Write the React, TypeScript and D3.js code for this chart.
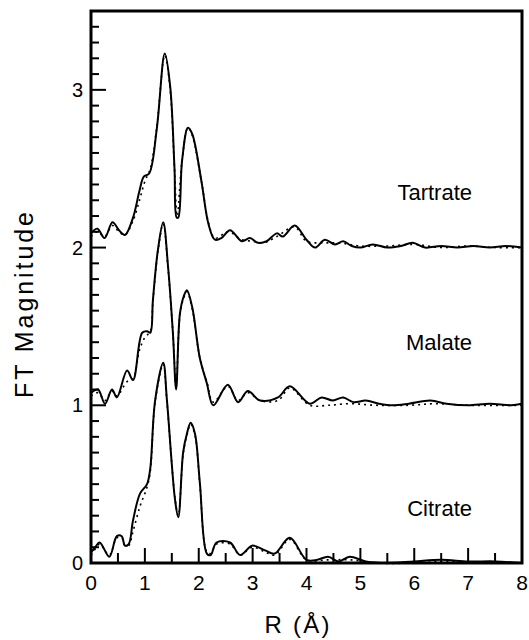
import React from "react";
import * as d3 from "d3";

const WIDTH = 529;
const HEIGHT = 640;
const MARGIN = { top: 11, left: 91, right: 7, bottom: 77 };

// [R (Å), magnitude] pairs, without vertical offset
const tartrateData = [
  [0, 0.09], [0.12, 0.12], [0.25, 0.06], [0.4, 0.16], [0.52, 0.11], [0.63, 0.08],
  [0.78, 0.19], [0.9, 0.36], [0.98, 0.45], [1.08, 0.47], [1.22, 0.75], [1.37, 1.23],
  [1.47, 1.02], [1.55, 0.5], [1.59, 0.19], [1.62, 0.19], [1.69, 0.55], [1.8, 0.76],
  [1.88, 0.72], [2.05, 0.42], [2.18, 0.15], [2.3, 0.05], [2.42, 0.06], [2.58, 0.11], [2.8, 0.04],
  [2.95, 0.06], [3.1, 0.03], [3.26, 0.04], [3.45, 0.09], [3.56, 0.07], [3.78, 0.14],
  [4.0, 0.05], [4.16, 0.0], [4.34, 0.05], [4.53, 0.02], [4.68, 0.04], [4.84, 0.01],
  [5.0, 0.0], [5.23, 0.02], [5.5, 0.0], [5.75, 0.01], [5.97, 0.03], [6.2, 0.0],
  [6.5, 0.01], [6.8, 0.0], [7.1, 0.01], [7.4, 0.0], [7.7, 0.01], [8, 0.0]
];
const tartrateFit = [
  [0, 0.07], [0.12, 0.1], [0.25, 0.07], [0.4, 0.14], [0.52, 0.1], [0.63, 0.08],
  [0.78, 0.17], [0.9, 0.3], [1.0, 0.42], [1.1, 0.5], [1.22, 0.76], [1.37, 1.22],
  [1.47, 1.0], [1.55, 0.5], [1.6, 0.2], [1.69, 0.55], [1.8, 0.76], [1.88, 0.71],
  [2.05, 0.42], [2.18, 0.16], [2.3, 0.06], [2.55, 0.1], [2.8, 0.05], [3.0, 0.04], [3.2, 0.03],
  [3.45, 0.07], [3.78, 0.13], [4.0, 0.04], [4.3, 0.03], [4.6, 0.03], [5.0, 0.01],
  [5.5, 0.01], [6.0, 0.02], [6.5, 0.0], [7, 0.01], [7.5, 0.0], [8, 0.0]
];

const malateData = [
  [0, 0.08], [0.13, 0.1], [0.26, 0.01], [0.39, 0.1], [0.48, 0.05], [0.67, 0.22],
  [0.78, 0.16], [0.95, 0.46], [1.04, 0.47], [1.1, 0.46], [1.15, 0.67], [1.24, 0.98],
  [1.34, 1.16], [1.43, 0.88], [1.52, 0.46], [1.58, 0.1], [1.65, 0.58], [1.72, 0.69],
  [1.78, 0.73], [1.88, 0.62], [2.02, 0.3], [2.15, 0.14], [2.27, 0.0], [2.54, 0.13],
  [2.73, 0.02], [2.91, 0.09], [3.14, 0.03], [3.47, 0.05], [3.69, 0.12], [4.06, 0.01],
  [4.28, 0.05], [4.49, 0.03], [4.68, 0.05], [4.87, 0.02], [5.1, 0.03], [5.35, 0.01],
  [5.6, 0.0], [5.9, 0.01], [6.3, 0.03], [6.6, 0.01], [7.0, 0.0], [7.4, 0.01],
  [7.8, 0.0], [8, 0.01]
];
const malateFit = [
  [0, 0.06], [0.13, 0.08], [0.26, 0.03], [0.39, 0.09], [0.48, 0.06], [0.67, 0.15],
  [0.78, 0.17], [0.9, 0.35], [1.0, 0.43], [1.1, 0.47], [1.15, 0.66], [1.24, 0.97],
  [1.34, 1.15], [1.43, 0.87], [1.52, 0.46], [1.58, 0.12], [1.65, 0.57], [1.72, 0.68],
  [1.78, 0.72], [1.88, 0.61], [2.02, 0.3], [2.15, 0.15], [2.27, 0.02], [2.54, 0.12],
  [2.73, 0.03], [2.91, 0.08], [3.14, 0.03], [3.47, 0.03], [3.69, 0.11], [4.06, 0.0],
  [4.4, 0.0], [4.8, 0.01], [5.3, 0.0], [5.9, 0.0], [6.4, 0.01], [7.0, 0.0], [8, 0.0]
];

const citrateData = [
  [0, 0.07], [0.06, 0.09], [0.16, 0.13], [0.34, 0.04], [0.48, 0.17], [0.57, 0.17],
  [0.63, 0.11], [0.7, 0.12], [0.78, 0.27], [0.91, 0.44], [1.04, 0.5], [1.1, 0.6],
  [1.19, 1.03], [1.34, 1.27], [1.41, 1.03], [1.56, 0.4], [1.62, 0.29], [1.71, 0.7],
  [1.78, 0.82], [1.85, 0.89], [1.93, 0.82], [2.02, 0.51], [2.15, 0.06], [2.22, 0.05],
  [2.33, 0.13], [2.58, 0.13], [2.77, 0.05], [2.99, 0.11], [3.23, 0.08], [3.41, 0.06],
  [3.69, 0.16], [4.0, 0.02], [4.2, 0.02], [4.4, 0.04], [4.6, 0.01], [4.8, 0.04],
  [5.1, 0.01], [5.5, 0.0], [6.0, 0.01], [6.5, 0.02], [7.0, 0.01], [7.5, 0.01], [8, 0.0]
];
const citrateFit = [
  [0, 0.05], [0.06, 0.08], [0.16, 0.12], [0.34, 0.05], [0.48, 0.16], [0.57, 0.16],
  [0.63, 0.11], [0.7, 0.11], [0.78, 0.2], [0.91, 0.36], [1.04, 0.48], [1.1, 0.58],
  [1.19, 1.02], [1.34, 1.26], [1.41, 1.02], [1.56, 0.41], [1.62, 0.3], [1.71, 0.69],
  [1.78, 0.81], [1.85, 0.88], [1.93, 0.81], [2.02, 0.5], [2.15, 0.07], [2.22, 0.06],
  [2.33, 0.12], [2.58, 0.12], [2.77, 0.05], [2.99, 0.1], [3.23, 0.07], [3.41, 0.05],
  [3.69, 0.15], [4.0, 0.02], [4.4, 0.02], [4.8, 0.02], [5.3, 0.0], [6.0, 0.0],
  [6.6, 0.01], [7.2, 0.0], [8, 0.0]
];

const seriesNames = ["Tartrate", "Malate", "Citrate"];
const seriesOffsets = [2, 1, 0];
const seriesData = [tartrateData, malateData, citrateData];
const seriesFits = [tartrateFit, malateFit, citrateFit];
const labelY = [2.3, 1.35, 0.3];

const xTickLabels = [0, 1, 2, 3, 4, 5, 6, 7, 8];
const yTickLabels = [0, 1, 2, 3];

const FONT = "'Liberation Sans', Arial, Helvetica, sans-serif";

export default function App() {
  const x = d3
    .scaleLinear()
    .domain([0, 8])
    .range([MARGIN.left, WIDTH - MARGIN.right]);
  const y = d3
    .scaleLinear()
    .domain([0, 3.5])
    .range([HEIGHT - MARGIN.bottom, MARGIN.top]);

  const makeLine = (offset: number) =>
    d3
      .line<number[]>()
      .x(d => x(d[0]))
      .y(d => y(d[1] + offset))
      .curve(d3.curveCatmullRom.alpha(0.5));

  const yMinor = d3.range(0, 35).map(i => i / 10);
  const xMinor = d3.range(0, 17).map(i => i / 2);
  const x0 = x(0);
  const y0 = y(0);

  return (
    <svg
      width={WIDTH}
      height={HEIGHT}
      style={{ position: "absolute", left: 0, top: 0, background: "#fff" }}
      fontFamily={FONT}
    >
      {/* fits (dotted) */}
      {seriesFits.map((s, i) => (
        <path
          key={"fit" + i}
          d={makeLine(seriesOffsets[i])(s) || ""}
          fill="none"
          stroke="#000"
          strokeWidth={1.6}
          strokeDasharray="2,4"
        />
      ))}
      {/* data (solid) */}
      {seriesData.map((s, i) => (
        <path
          key={"data" + i}
          d={makeLine(seriesOffsets[i])(s) || ""}
          fill="none"
          stroke="#000"
          strokeWidth={2}
          strokeLinejoin="round"
        />
      ))}

      {/* y ticks */}
      {yMinor.map(v => {
        const major = Math.abs(v - Math.round(v)) < 1e-6;
        return (
          <line
            key={"yt" + v}
            x1={x0}
            x2={x0 + (major ? 15 : 8)}
            y1={y(v)}
            y2={y(v)}
            stroke="#000"
            strokeWidth={2}
          />
        );
      })}
      {/* x ticks */}
      {xMinor.map(v => {
        const major = Math.abs(v - Math.round(v)) < 1e-6;
        return (
          <line
            key={"xt" + v}
            x1={x(v)}
            x2={x(v)}
            y1={y0}
            y2={y0 - (major ? 15 : 10)}
            stroke="#000"
            strokeWidth={2}
          />
        );
      })}

      {/* frame */}
      <rect
        x={x0}
        y={y(3.5)}
        width={x(8) - x0}
        height={y0 - y(3.5)}
        fill="none"
        stroke="#000"
        strokeWidth={3}
      />

      {yTickLabels.map(v => (
        <text
          key={"yl" + v}
          x={x0 - 8}
          y={y(v) + 7}
          textAnchor="end"
          fontSize={20}
        >
          {v}
        </text>
      ))}
      {xTickLabels.map(v => (
        <text
          key={"xl" + v}
          x={x(v)}
          y={y0 + 27}
          textAnchor="middle"
          fontSize={21}
        >
          {v}
        </text>
      ))}

      {seriesNames.map((n, i) => (
        <text
          key={n}
          x={472}
          y={y(labelY[i])}
          textAnchor="end"
          fontSize={22}
        >
          {n}
        </text>
      ))}

      <text
        x={297}
        y={633}
        textAnchor="middle"
        fontSize={24}
        textLength={65}
      >
        R (Å)
      </text>
      <text
        transform="translate(33,305) rotate(-90)"
        textAnchor="middle"
        fontSize={25}
        textLength={186}
      >
        FT  Magnitude
      </text>
    </svg>
  );
}
